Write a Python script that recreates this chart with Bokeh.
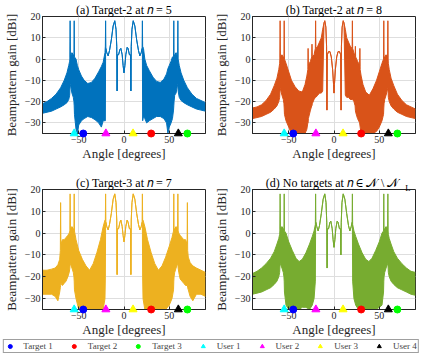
from bokeh.plotting import figure
from bokeh.models import Range1d, FixedTicker, Legend, LegendItem
from bokeh.core.properties import value
from bokeh.layouts import column, row
from bokeh.embed import file_html
from bokeh.resources import INLINE

# ---------------- data ----------------
# angle [deg], upper envelope [dBi], lower envelope [dBi] of the beampattern
ang_a = [-90, -85, -80, -75, -70, -66, -63, -61, -60, -59.8, -59.5, -59.2, -57.5, -56, -55.3, -55, -54.7,
         -53, -51.5, -50, -47, -44, -40, -36, -32, -28, -25, -23, -21, -20.6, -20.3, -20,
         -19, -17.5, -16, -14, -12, -10.2, -8.8, -8, -7.6, -7.2, -6, -4.5, -3.5, -2, -1, 0,
         1, 2, 3.5, 4.5, 6, 7.2, 7.6, 8, 8.8, 10.2, 12, 14, 16, 17.5, 19, 20, 20.3, 20.6,
         21.5, 23, 25, 28, 32, 36, 40, 44, 47, 48.5, 50, 52, 53.5, 54.7, 55, 55.3, 56, 57.5,
         59.2, 59.5, 59.8, 61, 63, 66, 70, 75, 80, 85, 90]
up_a = [-21, -20, -18.5, -16.5, -13.5, -10, -6.5, -3, -1, 0, 18, 1, 3, 2, 1, 18, 1,
        0, -3, -5, -8, -10, -11.5, -11, -9, -6, -3.5, -1.5, 3, 6, 18, 5,
        3, 1.5, 4, 9, 15.5, 18, 14, 6, -15, 2, 2, 4.5, 5, 2, -3, -6.5,
        -3, 2, 5.5, 5, 2, 2, -15, 6, 14, 18, 15.5, 9, 4, 1.5, 3, 5, 18, 6,
        5, 0, -3, -5.5, -8.5, -10.5, -11, -9.5, -7, -4.5, -3, -1, 1, 1, 18, 1, 2, 3,
        1, 18, 0, -3, -6.5, -10, -13.5, -16.5, -18.5, -19.5, -20.5]
lo_a = [-25.5, -25, -24.5, -23.5, -22.5, -21.5, -20.5, -19, -17, -15, -12, -12, -16, -18, -20, -22, -26,
        -33, -35, -31, -29, -28, -27, -27.5, -28.5, -30, -32, -29, -29, -29, 4, 5,
        3, 1.5, 4, 9, 15.5, 18, 14, 6, -15, 2, 2, 4.5, 5, 2, -3, -6.5,
        -3, 2, 5.5, 5, 2, 2, -15, 6, 14, 18, 15.5, 9, 4, 1.5, 3, 5, 4, -29,
        -27, -28, -30, -29, -28, -27, -27, -28, -30, -35, -32, -30, -28, -24, -22, -20, -17, -16,
        -12, -12, -15, -18, -19.5, -20.5, -21.5, -22.5, -23.5, -24, -24.5]

ang_b = [-90, -85, -80, -75, -70, -66, -63, -61, -60, -59.8, -59.5, -59.2, -57.5, -56, -55.3, -55, -54.7,
         -53, -50, -47, -43, -39, -35, -32, -30, -28.9, -28.6, -28.3, -26, -24.6, -24.3, -24, -22,
         -20.6, -20.3, -20, -18, -16, -14, -12.5, -11, -10.2, -9, -8.2, -7.8, -7.4, -6, -4.5, -3,
         -1.5, -0.5, 0, 0.5, 1.5, 3, 4.5, 6, 7.4, 7.8, 8.2, 9, 10.2, 11, 12.5, 14, 16, 18, 20,
         20.3, 20.6, 22, 23.3, 23.6, 23.9, 26, 28.3, 28.6, 28.9, 30, 32, 35, 39, 43, 47, 50, 53,
         54.7, 55, 55.3, 56, 57.5, 59.2, 59.5, 59.8, 60, 61, 63, 66, 70, 75, 80, 85, 90]
up_b = [-23, -22.5, -21.5, -19.5, -16.5, -12.5, -9, -5, -2, 0, 18, 1, 2, 1, 0, 18, 0,
        -2, -6, -10, -13, -15, -15.5, -12, -8, -5, 5, -3, -1, 1, 7, 1, 2,
        5, 18, 5, 6, 8, 10, 14, 17, 18, 15, 6, -24, 2, 3.5, 3.5, 1,
        -5, -12, -16, -12, -5, 1, 3.5, 3.5, 2, -24, 6, 15, 18, 17, 14, 10, 8, 6, 5,
        18, 5, 3, 1, 6, 1, -1, -3, 5, -5, -8, -12, -15.5, -17, -14, -10, -6, -2,
        0, 18, 0, 1, 2, 1, 18, 0, -2, -5, -9, -12.5, -16.5, -19.5, -21.5, -22.5, -23.5]
lo_b = [-28, -27.5, -27, -26, -25, -23.5, -22, -20, -18, -16, -14, -14, -17, -19, -21, -23, -26,
        -29, -32, -35, -35, -35, -35, -35, -33, -30, -30, -28, -24, -22, -22, -21, -19,
        -18, -18, -18, -17, -16, -16, -15, 17, 18, 15, 6, -24, 2, 3.5, 3.5, 1,
        -5, -12, -16, -12, -5, 1, 3.5, 3.5, 2, -24, 6, 15, 18, 17, -17, -18, -18, -19, -19,
        -19, -19, -20, -22, -24, -25, -28, -30, -31, -32, -35, -35, -35, -35, -35, -34, -32, -29,
        -26, -23, -21, -19, -17, -14, -14, -16, -18, -20, -22, -23.5, -25, -26, -27, -27.5, -28]

ang_c = [-90, -85, -80, -76, -73, -71, -70.3, -70, -69.7, -68, -66, -64, -62, -60.5, -59.8, -59.5, -59.2,
         -57.5, -56, -55.3, -55, -54.7, -53, -50, -46, -42, -38, -34, -30, -26, -23, -21, -20.6, -20.3, -20,
         -19, -17.5, -16, -14, -12, -10.2, -8.8, -8, -7.6, -7.2, -6, -4.5, -3.5, -2, -1, 0,
         1, 2, 3.5, 4.5, 6, 7.2, 7.6, 8, 8.8, 10.2, 12, 14, 16, 17.5, 19, 20, 20.3, 20.6,
         21, 23, 26, 30, 34, 38, 42, 46, 50, 53, 54.7, 55, 55.3, 56, 57.5, 59.2, 59.5, 59.8,
         60.5, 62, 64, 66, 68, 69.7, 70, 70.3, 71, 73, 76, 80, 85, 90]
up_c = [-17, -17, -16.5, -16, -14.5, -12, -8, 14, -5, -3, -3, -2, -1, 0, 1, 18, 2,
        3, 2, 1, 18, 1, -3, -8, -12, -15, -17, -14, -9, -3, 3, 6, 6, 18, 5,
        3, 1.5, 4, 9, 15.5, 18, 14, 6, -19, 2, 2, 5, 6, 3, -1, -4,
        -1, 3, 6, 5, 2, 2, -19, 6, 14, 18, 15.5, 9, 4, 1.5, 3, 5, 18, 6,
        6, 3, -3, -9, -14, -17, -15, -11, -6, -2, 1, 18, 1, 2, 3, 2, 18, 1,
        0, -1, -2, -3, -3, -5, 14, -8, -11, -13.5, -15, -16, -17, -18]
lo_c = [-28, -28, -28, -29, -31, -27, -25, -24, -23, -24, -23, -22, -20, -18, -16, -14, -14,
        -16, -18, -20, -22, -26, -30, -35, -35, -35, -35, -35, -35, -35, -35, -30, -20, 4, 5,
        3, 1.5, 4, 9, 15.5, 18, 14, 6, -19, 2, 2, 5, 6, 3, -1, -4,
        -1, 3, 6, 5, 2, 2, -19, 6, 14, 18, 15.5, 9, 4, 1.5, 3, 5, 4, -20,
        -30, -35, -35, -35, -35, -35, -35, -35, -33, -30, -26, -22, -20, -18, -16, -14, -14, -16,
        -18, -21, -22, -23, -24, -24, -24, -25, -26, -29, -31, -28, -28, -29]

ang_d = [-90, -85, -80, -75, -70, -66, -63, -61, -60, -59.8, -59.5, -59.2, -57.5, -56, -55.3, -55, -54.7,
         -53, -50, -46, -42, -38.5, -35, -31, -27, -24, -22, -20.6, -20.3, -20,
         -19, -17.5, -16, -14, -12, -10.2, -8.8, -8, -7.6, -7.2, -6, -4.5, -3.5, -2, -1, 0,
         1, 2, 3.5, 4.5, 6, 7.2, 7.6, 8, 8.8, 10.2, 12, 14, 16, 17.5, 19, 20, 20.3, 20.6,
         22, 24, 27, 31, 35, 38.5, 42, 46, 50, 53, 54.7, 55, 55.3, 56, 57.5, 59.2, 59.5, 59.8,
         60, 61, 63, 66, 70, 75, 80, 85, 90]
up_d = [-18.5, -17.5, -16, -14, -11.5, -8.5, -5, -2.5, -0.5, 1, 18, 2, 3, 2, 1, 18, 1,
        0, -4, -8, -11.5, -13, -12, -9, -5, -1.5, 1, 4, 18, 5,
        3, 1, 3.5, 9, 15.5, 18, 14, 5, -16, 2, 2, 5, 5.5, 2, -3, -6.5,
        -3, 2, 5.5, 5, 2, 2, -10, 5, 14, 18, 15.5, 9, 3.5, 1, 3, 5, 18, 4,
        1, -1.5, -5, -9, -12, -13, -11.5, -8, -4, 0, 1, 18, 1, 2, 3, 2, 18, 1,
        -0.5, -2.5, -5, -8.5, -11.5, -14, -16, -17.5, -18]
lo_d = [-28, -27.5, -27, -26, -25, -23.5, -22, -20, -18, -16, -14, -14, -16, -18, -20, -22, -27,
        -33, -35, -35, -35, -35, -34, -34, -35, -33, -30, -22, 4, 5,
        3, 1, 3.5, 9, 15.5, 18, 14, 5, -16, 2, 2, 5, 5.5, 2, -3, -6.5,
        -3, 2, 5.5, 5, 2, 2, -10, 5, 14, 18, 15.5, 9, 3.5, 1, 3, 5, 4, -22,
        -30, -33, -35, -35, -35, -35, -35, -35, -34, -33, -27, -22, -20, -18, -16, -14, -14, -16,
        -18, -20, -22, -23.5, -25, -26, -27, -28, -28.5]

titles = ["(a) Target-2 at 𝑛 = 5", "(b) Target-2 at 𝑛 = 8",
          "(c) Target-3 at 𝑛 = 7", "(d) No targets at 𝑛 ∈ 𝒩 \\ 𝒩"]
subscript_d = "L"
colors = ["#0072BD", "#D95319", "#EDB120", "#77AC30"]

target_names = ["Target 1", "Target 2", "Target 3"]
target_angles = [-45, 30, 70]
target_colors = ["#0000FF", "#FF0000", "#00FF00"]
user_names = ["User 1", "User 2", "User 3", "User 4"]
user_angles = [-55, -20, 10, 60]
user_colors = ["#00FFFF", "#FF00FF", "#FFFF00", "#000000"]
marker_level = -35

x_ticks = [-50, 0, 50]
y_ticks = [-30, -20, -10, 0, 10, 20]

FONT = "Liberation Serif"
INK = "#262626"


def panel(title, ang, up, lo, color, w, h, left, right, top, bottom):
    p = figure(width=w, height=h, x_range=Range1d(-90, 90), y_range=Range1d(-35, 20),
               output_backend="svg", toolbar_location=None, title=title,
               min_border_left=left, min_border_right=right, min_border_top=top,
               min_border_bottom=bottom)
    p.title.text_font = FONT
    p.title.text_font_size = "12px"
    p.title.text_font_style = "normal"
    p.title.text_color = "black"
    p.title.align = "center"
    p.title.standoff = 0
    p.title.offset = 0
    p.outline_line_color = INK
    p.outline_line_alpha = 1
    for ax in (p.xaxis[0], p.yaxis[0]):
        ax.axis_label_text_font = FONT
        ax.axis_label_text_font_size = "13px"
        ax.axis_label_text_font_style = "normal"
        ax.axis_label_text_color = INK
        ax.major_label_text_font = FONT
        ax.major_label_text_font_size = "10px"
        ax.major_label_text_color = INK
        ax.axis_line_color = INK
        ax.major_tick_line_color = INK
        ax.major_tick_in = 3
        ax.major_tick_out = 0
        ax.minor_tick_line_color = None
        ax.major_label_standoff = 2
    p.xaxis.axis_label_standoff = 0
    p.yaxis.axis_label_standoff = 3
    p.xaxis.ticker = FixedTicker(ticks=x_ticks)
    p.yaxis.ticker = FixedTicker(ticks=y_ticks)
    p.xaxis.axis_label = "Angle [degrees]"
    p.yaxis.axis_label = "Beampattern gain [dBi]"
    p.grid.grid_line_color = "#dedede"
    p.varea(x=ang, y1=lo, y2=up, fill_color=color)
    p.line(ang, up, line_color=color, line_width=1)
    p.line(ang, lo, line_color=color, line_width=1)
    p.scatter(x=target_angles, y=[marker_level] * len(target_angles), marker="circle", size=7,
              color=target_colors, level="overlay")
    p.scatter(x=user_angles, y=[marker_level] * len(user_angles), marker="triangle", size=8,
              color=user_colors, level="overlay")
    return p


pa = panel(titles[0], ang_a, up_a, lo_a, colors[0], 210, 173, 37, 5, 13, 40)
pb = panel(titles[1], ang_b, up_b, lo_b, colors[1], 211, 173, 37, 6, 13, 40)
pc = panel(titles[2], ang_c, up_c, lo_c, colors[2], 210, 166, 37, 5, 13, 30)
pd = panel(titles[3], ang_d, up_d, lo_d, colors[3], 211, 166, 37, 6, 13, 30)
# subscript "L" of the (d) title, drawn just after the title text
pd.text(x=[78.8], y=[22.9], text=[subscript_d], text_font=value(FONT), text_font_size=value("8.5px"),
        text_color="black", text_baseline="top", text_align="left", level="overlay")

leg = figure(width=421, height=14, output_backend="svg", toolbar_location=None,
             x_range=Range1d(0, 1), y_range=Range1d(0, 1), min_border=0)
leg.axis.visible = False
leg.grid.visible = False
leg.outline_line_color = None
items = []
for n, c in zip(target_names, target_colors):
    r = leg.scatter(x=[-5], y=[-5], marker="circle", size=7, color=c)
    items.append(LegendItem(label=n, renderers=[r]))
for n, c in zip(user_names, user_colors):
    r = leg.scatter(x=[-5], y=[-5], marker="triangle", size=8, color=c)
    items.append(LegendItem(label=n, renderers=[r]))
legend = Legend(items=items, orientation="horizontal", location="center",
                border_line_color="#404040", border_line_width=1.5, padding=1, margin=0,
                spacing=16, label_standoff=9, glyph_width=10, glyph_height=10, label_height=10,
                label_text_font=FONT, label_text_font_size="9px", background_fill_alpha=1)
leg.add_layout(legend, "center")

layout = column(row(pa, pb), row(pc, pd), leg)
open("out.html", "w").write(file_html(layout, INLINE))
